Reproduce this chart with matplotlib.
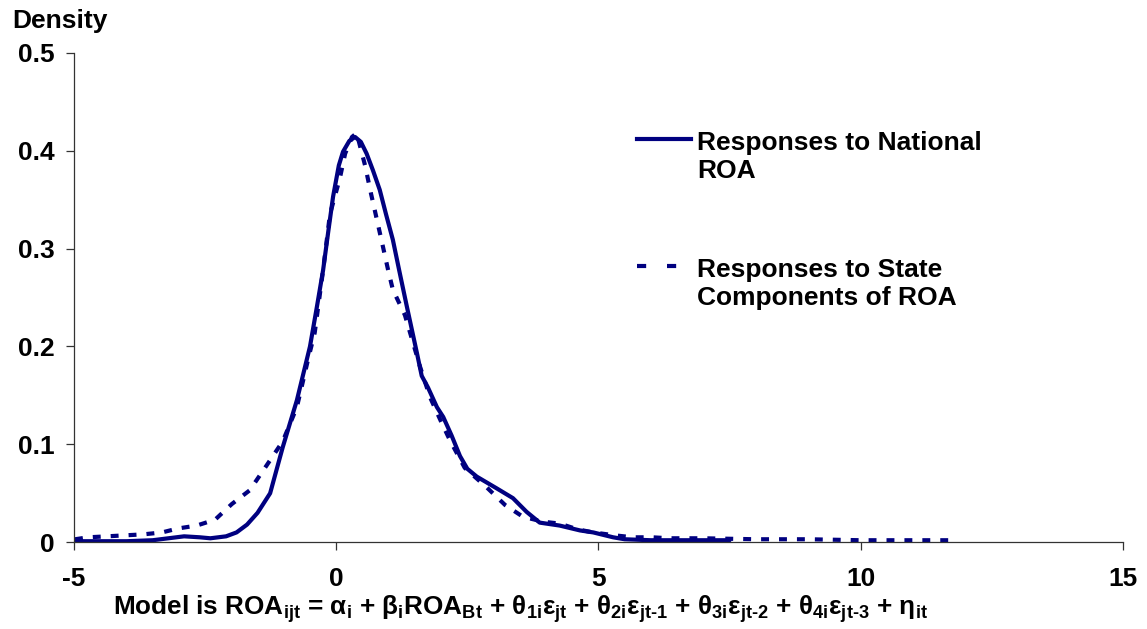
import matplotlib
matplotlib.use("Agg")
import matplotlib.pyplot as plt
from matplotlib.lines import Line2D

plt.rcParams['font.family'] = ['Liberation Sans', 'DejaVu Sans']
plt.rcParams['font.weight'] = 'bold'
plt.rcParams['mathtext.fontset'] = 'custom'
plt.rcParams['mathtext.rm'] = 'Liberation Sans:bold'
plt.rcParams['mathtext.it'] = 'Liberation Sans:bold'
plt.rcParams['mathtext.bf'] = 'Liberation Sans:bold'
plt.rcParams['mathtext.default'] = 'rm'

# density of responses to national ROA
national_x = [-5.0, -4.5, -4.0, -3.5, -3.2, -2.9, -2.6, -2.4, -2.1, -1.9, -1.7, -1.5,
              -1.26, -1.02, -0.75, -0.5, -0.37, -0.25, -0.15, -0.06, 0.05, 0.13, 0.25, 0.36,
              0.47, 0.58, 0.7, 0.83, 0.95, 1.08, 1.2, 1.35, 1.54, 1.63, 1.75, 1.92, 2.04,
              2.2, 2.36, 2.5, 2.68, 3.06, 3.37, 3.63, 3.88, 4.26, 4.65, 4.9, 5.28, 5.5,
              6.0, 7.0, 7.5]
national_y = [0.001, 0.001, 0.001, 0.002, 0.004, 0.006, 0.005, 0.004, 0.006, 0.010, 0.018, 0.030,
              0.050, 0.097, 0.145, 0.200, 0.240, 0.278, 0.318, 0.353, 0.385, 0.399, 0.410, 0.414,
              0.409, 0.397, 0.380, 0.360, 0.335, 0.309, 0.278, 0.240, 0.193, 0.170, 0.158, 0.138, 0.128,
              0.109, 0.088, 0.075, 0.067, 0.055, 0.045, 0.031, 0.020, 0.017, 0.012, 0.010, 0.005, 0.003,
              0.002, 0.002, 0.002]

# density of responses to state components of ROA
state_x = [-4.98, -4.73, -4.37, -4.03, -3.68, -3.32, -3.02, -2.66, -2.31, -1.99, -1.65,
           -1.32, -1.02, -0.75, -0.54, -0.41, -0.25, -0.12, 0.07, 0.17, 0.3, 0.39, 0.55,
           0.66, 0.74, 0.87, 0.99, 1.08, 1.31, 1.6, 1.79, 2.01, 2.17, 2.45, 2.87, 3.22,
           3.56, 3.94, 4.26, 4.61, 4.9, 5.31, 5.66, 6.02, 6.36, 7.0, 8.0, 9.0, 10.0, 11.0, 11.7]
state_y = [0.003, 0.005, 0.006, 0.007, 0.008, 0.010, 0.014, 0.017, 0.023, 0.039, 0.053,
           0.079, 0.103, 0.138, 0.186, 0.214, 0.278, 0.335, 0.372, 0.397, 0.414, 0.418, 0.385,
           0.357, 0.338, 0.307, 0.278, 0.258, 0.232, 0.179, 0.148, 0.122, 0.104, 0.076, 0.056, 0.038,
           0.026, 0.021, 0.019, 0.013, 0.010, 0.007, 0.005, 0.005, 0.004, 0.004, 0.003, 0.003, 0.002, 0.002, 0.002]

labels = ["Responses to National\nROA", "Responses to State\nComponents of ROA"]
xticks = [-5, 0, 5, 10, 15]
yticks = [0, 0.1, 0.2, 0.3, 0.4, 0.5]
navy = "#000080"
dash = (0, (1.9, 2.4))

fig = plt.figure(figsize=(11.47, 6.29), dpi=100)
ax = fig.add_axes([0.0645, 0.138, 0.9145, 0.778])

ax.plot(national_x, national_y, color=navy, lw=3, solid_capstyle='round', solid_joinstyle='round')
ax.plot(state_x, state_y, color=navy, lw=3, linestyle=dash)

ax.set_xlim(-5, 15)
ax.set_ylim(0, 0.5)
ax.set_xticks(xticks)
ax.set_yticks(yticks)
ax.set_xticklabels([str(t) for t in xticks])
ax.set_yticklabels(["0"] + ["%.1f" % t for t in yticks[1:]])
ax.spines['top'].set_visible(False)
ax.spines['right'].set_visible(False)
for s in ['left', 'bottom']:
    ax.spines[s].set_color('#333333')
    ax.spines[s].set_linewidth(0.9)
ax.tick_params(axis='y', length=6, width=0.9, pad=8, labelsize=19, color='#333333')
ax.tick_params(axis='x', length=6, width=0.9, pad=12, labelsize=19, color='#333333')
for lab in ax.get_xticklabels() + ax.get_yticklabels():
    lab.set_fontweight('bold')

fig.text(12 / 1147, 1 - 21 / 629, "Density", fontsize=19, fontweight='bold', va='center', ha='left')

# legend drawn by hand so the line sample sits at the first text line
styles = ['-', (0, (2.2, 5.0))]
leg_y = [1 - 139 / 629, 1 - 266 / 629]
for lab, st, yy in zip(labels, styles, leg_y):
    fig.add_artist(Line2D([637 / 1147, 691 / 1147], [yy, yy], color=navy, lw=3,
                          linestyle=st, transform=fig.transFigure))
    fig.text(697 / 1147, yy + 0.013, lab, fontsize=19, fontweight='bold', va='top', ha='left',
             linespacing=1.2)

xlabel = (r"Model is $\mathrm{ROA}_{ijt}$ = $α_{i}$ + $β_{i}\mathrm{ROA}_{Bt}$ + "
          r"$θ_{1i}ε_{jt}$ + $θ_{2i}ε_{jt‐1}$ + $θ_{3i}ε_{jt‐2}$ + $θ_{4i}ε_{jt‐3}$ + $η_{it}$")
fig.text(521 / 1147, 1 - 593 / 629, xlabel, fontsize=18.8, fontweight='bold', ha='center', va='top')

fig.savefig("out.png", dpi=100)
